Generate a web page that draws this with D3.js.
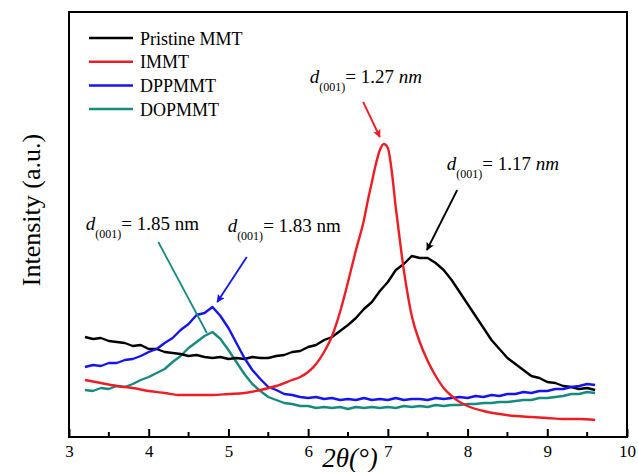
<!DOCTYPE html>
<html>
<head>
<meta charset="utf-8">
<script src="https://cdnjs.cloudflare.com/ajax/libs/d3/7.8.5/d3.min.js"></script>
<style>
  body { margin: 0; background: #fff; }
  svg { display: block; }
  svg text { font-family: "Liberation Serif", "Tinos", "DejaVu Serif", serif; }
</style>
</head>
<body>
<div id="myDiv"></div>
<script>
// 2theta grid (deg) for the three noisy scans
var twoTheta = [3.2,3.3,3.4,3.5,3.6,3.7,3.8,3.9,4.0,
  4.1,4.2,4.3,4.4,4.5,4.6,4.7,4.8,4.9,5.0,
  5.1,5.2,5.3,5.4,5.5,5.6,5.7,5.8,5.9,6.0,
  6.1,6.2,6.3,6.4,6.5,6.6,6.7,6.8,6.9,7.0,
  7.1,7.2,7.3,7.4,7.5,7.6,7.7,7.8,7.9,8.0,
  8.1,8.2,8.3,8.4,8.5,8.6,8.7,8.8,8.9,9.0,
  9.1,9.2,9.3,9.4,9.5,9.6];

var pristine = [100,98,99,96,95,94,91,92,88,
  88,85,84,83,81,82,80,79,80,78,
  79,78,80,79,79,81,82,85,86,90,
  92,97,100,106,112,119,128,135,146,155,
  167,173,181,179,179,174,167,157,145,133,
  121,109,97,88,79,73,67,61,59,55,
  54,51,50,48,49,47];

var dppmmt = [70,72,71,74,74,77,78,81,85,
  88,94,99,107,113,122,124,130,121,109,
  94,79,67,58,50,47,43,42,40,39,
  40,38,39,37,38,37,39,37,38,37,
  39,37,38,38,37,39,38,39,40,39,
  41,40,42,41,43,43,45,44,46,46,
  48,48,50,51,53,52];

var dopmmt = [47,46,49,48,51,50,53,57,60,
  64,68,75,81,89,95,101,105,98,87,
  75,63,53,46,40,37,34,33,31,31,
  29,30,29,30,28,30,29,30,29,30,
  29,31,30,31,30,32,31,32,32,33,
  33,34,34,35,35,36,37,37,39,39,
  40,41,43,43,45,44];

// IMMT is smooth, sampled finer round the peak
var immtX = [3.2,3.4,3.6,3.8,4.0,4.2,4.4,4.6,4.8,5.0,
  5.2,5.4,5.6,5.8,5.9,6.0,6.1,6.2,6.3,6.4,
  6.5,6.6,6.7,6.75,6.8,6.85,6.9,6.95,7.0,7.05,
  7.1,7.15,7.2,7.25,7.3,7.4,7.5,7.6,7.7,7.8,
  7.9,8.0,8.2,8.4,8.6,8.8,9.0,9.2,9.4,9.6];
var immt = [57,54,51,49,46,44,42,42,42,43,
  44,47,51,57,60,65,73,85,101,125,
  155,187,217,237,255,273,287,293,289,265,
  229,197,167,142,121,95,76,61,49,41,
  35,31,26,23,21,20,19,18,18,17];

var seriesNames = ["Pristine MMT", "IMMT", "DPPMMT", "DOPMMT"];
var seriesColors = ["#000000", "#ee1c24", "#1414f0", "#168a80"];

var xTicks = [3, 4, 5, 6, 7, 8, 9, 10];

// peak labels: d-spacing, italic unit?, label anchor, arrow from -> to
var peakLabels = ["1.27", "1.17", "1.83", "1.85"];
var peakItalic = [true, true, false, false];
var labelPos = [[6.02, 354], [7.74, 267], [4.99, 205], [3.21, 207]];
var arrowFrom = [[6.69, 335], [7.87, 247], [5.23, 180], [4.12, 195]];
var arrowTo = [[6.90, 300], [7.49, 187], [4.86, 135], [4.73, 104]];
var arrowHead = [true, true, true, false];
var arrowColor = [1, 0, 2, 3];

var serif = "'Liberation Serif', 'Tinos', 'DejaVu Serif', serif";

//Width and height
var w = 638;
var h = 472;
var padLeft = 69, padRight = 627, padTop = 12, padBottom = 437;

var svg = d3.select("#myDiv")
    .append("svg")
    .attr("width", w)
    .attr("height", h)
    .attr("font-family", serif);

var x = d3.scaleLinear().domain([3, 10]).range([padLeft, padRight]);
var y = d3.scaleLinear().domain([0, 425]).range([padBottom, padTop]);

// arrow markers, one per colour
var defs = svg.append("defs");
seriesColors.forEach(function(c, i) {
  defs.append("marker")
    .attr("id", "ah" + i)
    .attr("viewBox", "0 0 10 10")
    .attr("refX", 9)
    .attr("refY", 5)
    .attr("markerWidth", 9)
    .attr("markerHeight", 8)
    .attr("markerUnits", "userSpaceOnUse")
    .attr("orient", "auto")
    .append("path")
    .attr("d", "M0,0 L10,5 L0,10 L2,5 z")
    .attr("fill", c);
});

// bottom axis, ticks pointing inwards
var xAxis = d3.axisBottom(x)
    .tickValues(xTicks)
    .tickSize(-8)
    .tickPadding(8)
    .tickFormat(d3.format("d"));

var gx = svg.append("g")
    .attr("transform", "translate(0," + padBottom + ")")
    .call(xAxis)
    .attr("font-family", serif);
gx.select(".domain").remove();
gx.selectAll(".tick line").attr("stroke", "#000").attr("stroke-width", 2);
gx.selectAll(".tick text")
    .attr("font-size", "17px")
    .attr("fill", "#000")
    .style("font-family", serif);

var minor = [3.5, 4.5, 5.5, 6.5, 7.5, 8.5, 9.5];
svg.selectAll("line.minor")
  .data(minor)
  .enter()
  .append("line")
  .attr("class", "minor")
  .attr("x1", function(d) { return x(d); })
  .attr("x2", function(d) { return x(d); })
  .attr("y1", padBottom)
  .attr("y2", padBottom - 5)
  .attr("stroke", "#000")
  .attr("stroke-width", 2);

// curves
var line = d3.line()
    .x(function(d) { return x(d[0]); })
    .y(function(d) { return y(d[1]); });

var smooth = d3.line()
    .curve(d3.curveMonotoneX)
    .x(function(d) { return x(d[0]); })
    .y(function(d) { return y(d[1]); });

var curves = [
  { pts: twoTheta.map(function(t, i) { return [t, dopmmt[i]]; }), c: 3, f: line },
  { pts: twoTheta.map(function(t, i) { return [t, pristine[i]]; }), c: 0, f: line },
  { pts: twoTheta.map(function(t, i) { return [t, dppmmt[i]]; }), c: 2, f: line },
  { pts: immtX.map(function(t, i) { return [t, immt[i]]; }), c: 1, f: smooth }
];

svg.selectAll("path.curve")
  .data(curves)
  .enter()
  .append("path")
  .attr("class", "curve")
  .attr("d", function(d) { return d.f(d.pts); })
  .attr("fill", "none")
  .attr("stroke", function(d) { return seriesColors[d.c]; })
  .attr("stroke-width", 2.4)
  .attr("stroke-linejoin", "round");

// frame
svg.append("rect")
  .attr("x", padLeft)
  .attr("y", padTop)
  .attr("width", padRight - padLeft)
  .attr("height", padBottom - padTop)
  .attr("fill", "none")
  .attr("stroke", "#000")
  .attr("stroke-width", 2);

// legend
var leg = svg.selectAll("g.leg")
  .data(seriesNames)
  .enter()
  .append("g")
  .attr("class", "leg")
  .attr("transform", function(d, i) { return "translate(89," + (38 + i * 23.7) + ")"; });
leg.append("line")
  .attr("x1", 0).attr("x2", 44)
  .attr("stroke", function(d, i) { return seriesColors[i]; })
  .attr("stroke-width", 2.5);
leg.append("text")
  .attr("x", 51)
  .attr("y", 6.5)
  .attr("font-size", "18px")
  .text(function(d) { return d; });

// annotation arrows
svg.selectAll("line.arrow")
  .data(peakLabels)
  .enter()
  .append("line")
  .attr("class", "arrow")
  .attr("x1", function(d, i) { return x(arrowFrom[i][0]); })
  .attr("y1", function(d, i) { return y(arrowFrom[i][1]); })
  .attr("x2", function(d, i) { return x(arrowTo[i][0]); })
  .attr("y2", function(d, i) { return y(arrowTo[i][1]); })
  .attr("stroke", function(d, i) { return seriesColors[arrowColor[i]]; })
  .attr("stroke-width", 1.8)
  .attr("marker-end", function(d, i) { return arrowHead[i] ? "url(#ah" + arrowColor[i] + ")" : null; });

// annotation labels d(001) = ...
var lab = svg.selectAll("text.peak")
  .data(peakLabels)
  .enter()
  .append("text")
  .attr("class", "peak")
  .attr("x", function(d, i) { return x(labelPos[i][0]); })
  .attr("y", function(d, i) { return y(labelPos[i][1]); })
  .attr("font-size", "19px")
  .attr("fill", "#000");
lab.append("tspan").attr("font-style", "italic").text("d");
lab.append("tspan").attr("font-size", "12px").attr("dy", 8).text("(001)");
lab.append("tspan").attr("dy", -8).text(function(d) { return "= " + d + " "; });
lab.append("tspan")
  .attr("font-style", function(d, i) { return peakItalic[i] ? "italic" : "normal"; })
  .text("nm");

// axis titles
svg.append("text")
  .attr("transform", "translate(40,210) rotate(-90)")
  .attr("text-anchor", "middle")
  .attr("font-size", "26px")
  .text("Intensity (a.u.)");

svg.append("text")
  .attr("x", x(6.5) + 2)
  .attr("y", 467)
  .attr("text-anchor", "middle")
  .attr("font-size", "27px")
  .attr("font-style", "italic")
  .text("2θ(°)");
</script>
</body>
</html>
